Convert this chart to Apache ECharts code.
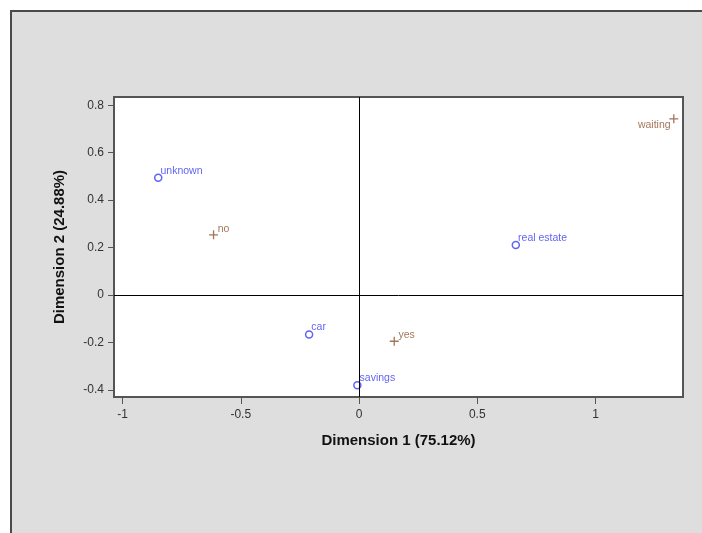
<!DOCTYPE html>
<html>
<head>
<meta charset="utf-8">
<script src="https://cdn.jsdelivr.net/npm/echarts@6/dist/echarts.min.js"></script>
<style>
html,body{margin:0;padding:0;background:#fff;}
#chart{width:702px;height:533px;}
</style>
</head>
<body>
<div id="chart"></div>
<script>
// Row categories (circles, blue)
const rowLabels = ['unknown', 'car', 'savings', 'real estate'];
const rowDim1 = [-0.849, -0.211, -0.007, 0.663];
const rowDim2 = [0.495, -0.166, -0.380, 0.211];
// Column categories (plus, brown)
const colLabels = ['no', 'yes', 'waiting'];
const colDim1 = [-0.615, 0.149, 1.331];
const colDim2 = [0.254, -0.195, 0.743];
// Tick labels
const xTicks = [-1, -0.5, 0, 0.5, 1];
const yTicks = [-0.4, -0.2, 0, 0.2, 0.4, 0.6, 0.8];
const xTitle = 'Dimension 1 (75.12%)';
const yTitle = 'Dimension 2 (24.88%)';

const BLUE = '#3a3af0';
const BROWN = '#8b5330';

const rowData = rowLabels.map((n, i) => ({ name: n, value: [rowDim1[i], rowDim2[i]] }));
const colData = colLabels.map((n, i) => {
  const d = { name: n, value: [colDim1[i], colDim2[i]] };
  if (n === 'waiting') {
    d.label = { position: 'left', distance: 0, offset: [2, 6] };
  }
  return d;
});

const chart = echarts.init(document.getElementById('chart'), null, { renderer: 'canvas' });
const labelFont = { fontFamily: 'Liberation Sans, Arial, sans-serif', fontSize: 10.5 };

chart.setOption({
  animation: false,
  backgroundColor: '#ffffff',
  graphic: [{
    type: 'rect', z: -10, silent: true,
    shape: { x: 11, y: 11, width: 700, height: 530 },
    style: { fill: '#dedede', stroke: '#4a4a4a', lineWidth: 2 }
  }],
  grid: {
    left: 114, top: 97, right: 19, bottom: 136,
    show: true, backgroundColor: '#ffffff', borderColor: '#555555', borderWidth: 2
  },
  xAxis: {
    type: 'value', min: -1.036, max: 1.37,
    splitLine: { show: false },
    axisLine: { show: true, onZero: false, lineStyle: { color: '#555555', width: 2 } },
    axisTick: { show: true, length: 7, customValues: xTicks, lineStyle: { color: '#555555', width: 1 } },
    axisLabel: { customValues: xTicks, margin: 12, color: '#333333', fontSize: 12, fontFamily: 'Liberation Sans, Arial, sans-serif' },
    name: xTitle, nameLocation: 'middle', nameGap: 36,
    nameTextStyle: { color: '#111111', fontSize: 15, fontWeight: 'bold', fontFamily: 'Liberation Sans, Arial, sans-serif' }
  },
  yAxis: {
    type: 'value', min: -0.43, max: 0.835,
    splitLine: { show: false },
    axisLine: { show: true, onZero: false, lineStyle: { color: '#555555', width: 2 } },
    axisTick: { show: true, length: 6, customValues: yTicks, lineStyle: { color: '#555555', width: 1 } },
    axisLabel: { customValues: yTicks, margin: 10, color: '#333333', fontSize: 12, fontFamily: 'Liberation Sans, Arial, sans-serif' },
    name: yTitle, nameLocation: 'middle', nameGap: 47, nameRotate: 90,
    nameTextStyle: { color: '#111111', fontSize: 15, fontWeight: 'bold', fontFamily: 'Liberation Sans, Arial, sans-serif' }
  },
  series: [
    {
      type: 'scatter', name: 'rows', data: rowData,
      symbol: 'circle', symbolSize: 7,
      itemStyle: { color: 'transparent', borderColor: BLUE, borderWidth: 1.5 },
      label: {
        show: true, formatter: '{b}', position: 'right', distance: 0, offset: [-2, -7],
        color: BLUE, ...labelFont
      },
      markLine: {
        silent: true, symbol: 'none', label: { show: false },
        lineStyle: { color: '#000000', width: 1, type: 'solid' },
        data: [{ xAxis: 0 }, { yAxis: 0 }]
      },
      z: 3
    },
    {
      type: 'scatter', name: 'cols', data: colData,
      symbol: 'path://M0,5H10M5,0V10', symbolSize: 9,
      itemStyle: { color: 'transparent', borderColor: BROWN, borderWidth: 1.3 },
      label: {
        show: true, formatter: '{b}', position: 'right', distance: 0, offset: [-1, -6],
        color: BROWN, ...labelFont
      },
      z: 3
    }
  ]
});
</script>
</body>
</html>
